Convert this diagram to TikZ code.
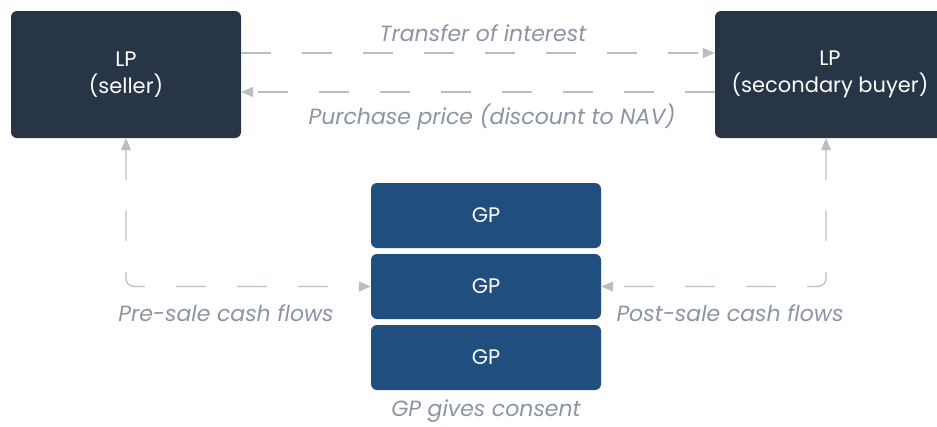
\documentclass[tikz,border=0pt]{standalone}
\usepackage{fontspec}
\setmainfont{Poppins}
\usetikzlibrary{arrows.meta}
\definecolor{lpdark}{HTML}{283546}
\definecolor{gpblue}{HTML}{1F4E7F}
\definecolor{flowgray}{HTML}{B8BEC6}
\definecolor{labelgray}{HTML}{8A94A3}
\begin{document}
\begin{tikzpicture}[x=1pt, y=-1pt,
    lpbox/.style={fill=lpdark, rounded corners=6pt, minimum width=230pt, minimum height=127pt,
        text=white, align=center, font=\fontsize{21}{27}\selectfont, inner sep=0pt},
    gpbox/.style={fill=gpblue, rounded corners=6pt, minimum width=230pt, minimum height=65pt,
        text=white, font=\fontsize{21}{27}\selectfont, inner sep=0pt},
    flow/.style={draw=flowgray, line width=1.2pt, dash pattern=on 30pt off 31pt,
        -{Triangle[length=12pt, width=10pt]}},
    flowlabel/.style={text=labelgray, font=\fontsize{22}{26}\selectfont\itshape, inner sep=0pt}]
    \useasboundingbox (0,0) rectangle (937,426);

    % Limited partners
    \node[lpbox] (seller) at (126,74.5) {LP\\(seller)};
    \node[lpbox] (buyer) at (830,74.5) {LP\\(secondary buyer)};

    % General partner
    \node[gpbox] (gp1) at (486,215.5) {GP};
    \node[gpbox] (gp2) at (486,286.5) {GP};
    \node[gpbox] (gp3) at (486,357.5) {GP};

    % Sale
    \draw[flow] ([yshift=21.5pt]seller.east) -- ([yshift=21.5pt]buyer.west);
    \draw[flow] ([yshift=-17.5pt]buyer.west) -- ([yshift=-17.5pt]seller.east);
    \node[flowlabel] (transfer) at (483,33) {Transfer of interest};
    \node[flowlabel] (price) at (492,117) {Purchase price (discount to NAV)};

    % Cash flows
    \draw[flow, {Triangle[length=12pt, width=10pt]}-{Triangle[length=12pt, width=10pt]}, rounded corners=8pt]
        (seller.south) |- (gp2.west);
    \draw[flow, {Triangle[length=12pt, width=10pt]}-{Triangle[length=12pt, width=10pt]}, rounded corners=8pt]
        ([xshift=-4pt]buyer.south) |- (gp2.east);
    \node[flowlabel] (presale) at (226,313) {Pre-sale cash flows};
    \node[flowlabel] (postsale) at (730,313) {Post-sale cash flows};

    \node[flowlabel] (consent) at (486,411) {GP gives consent};
\end{tikzpicture}
\end{document}
